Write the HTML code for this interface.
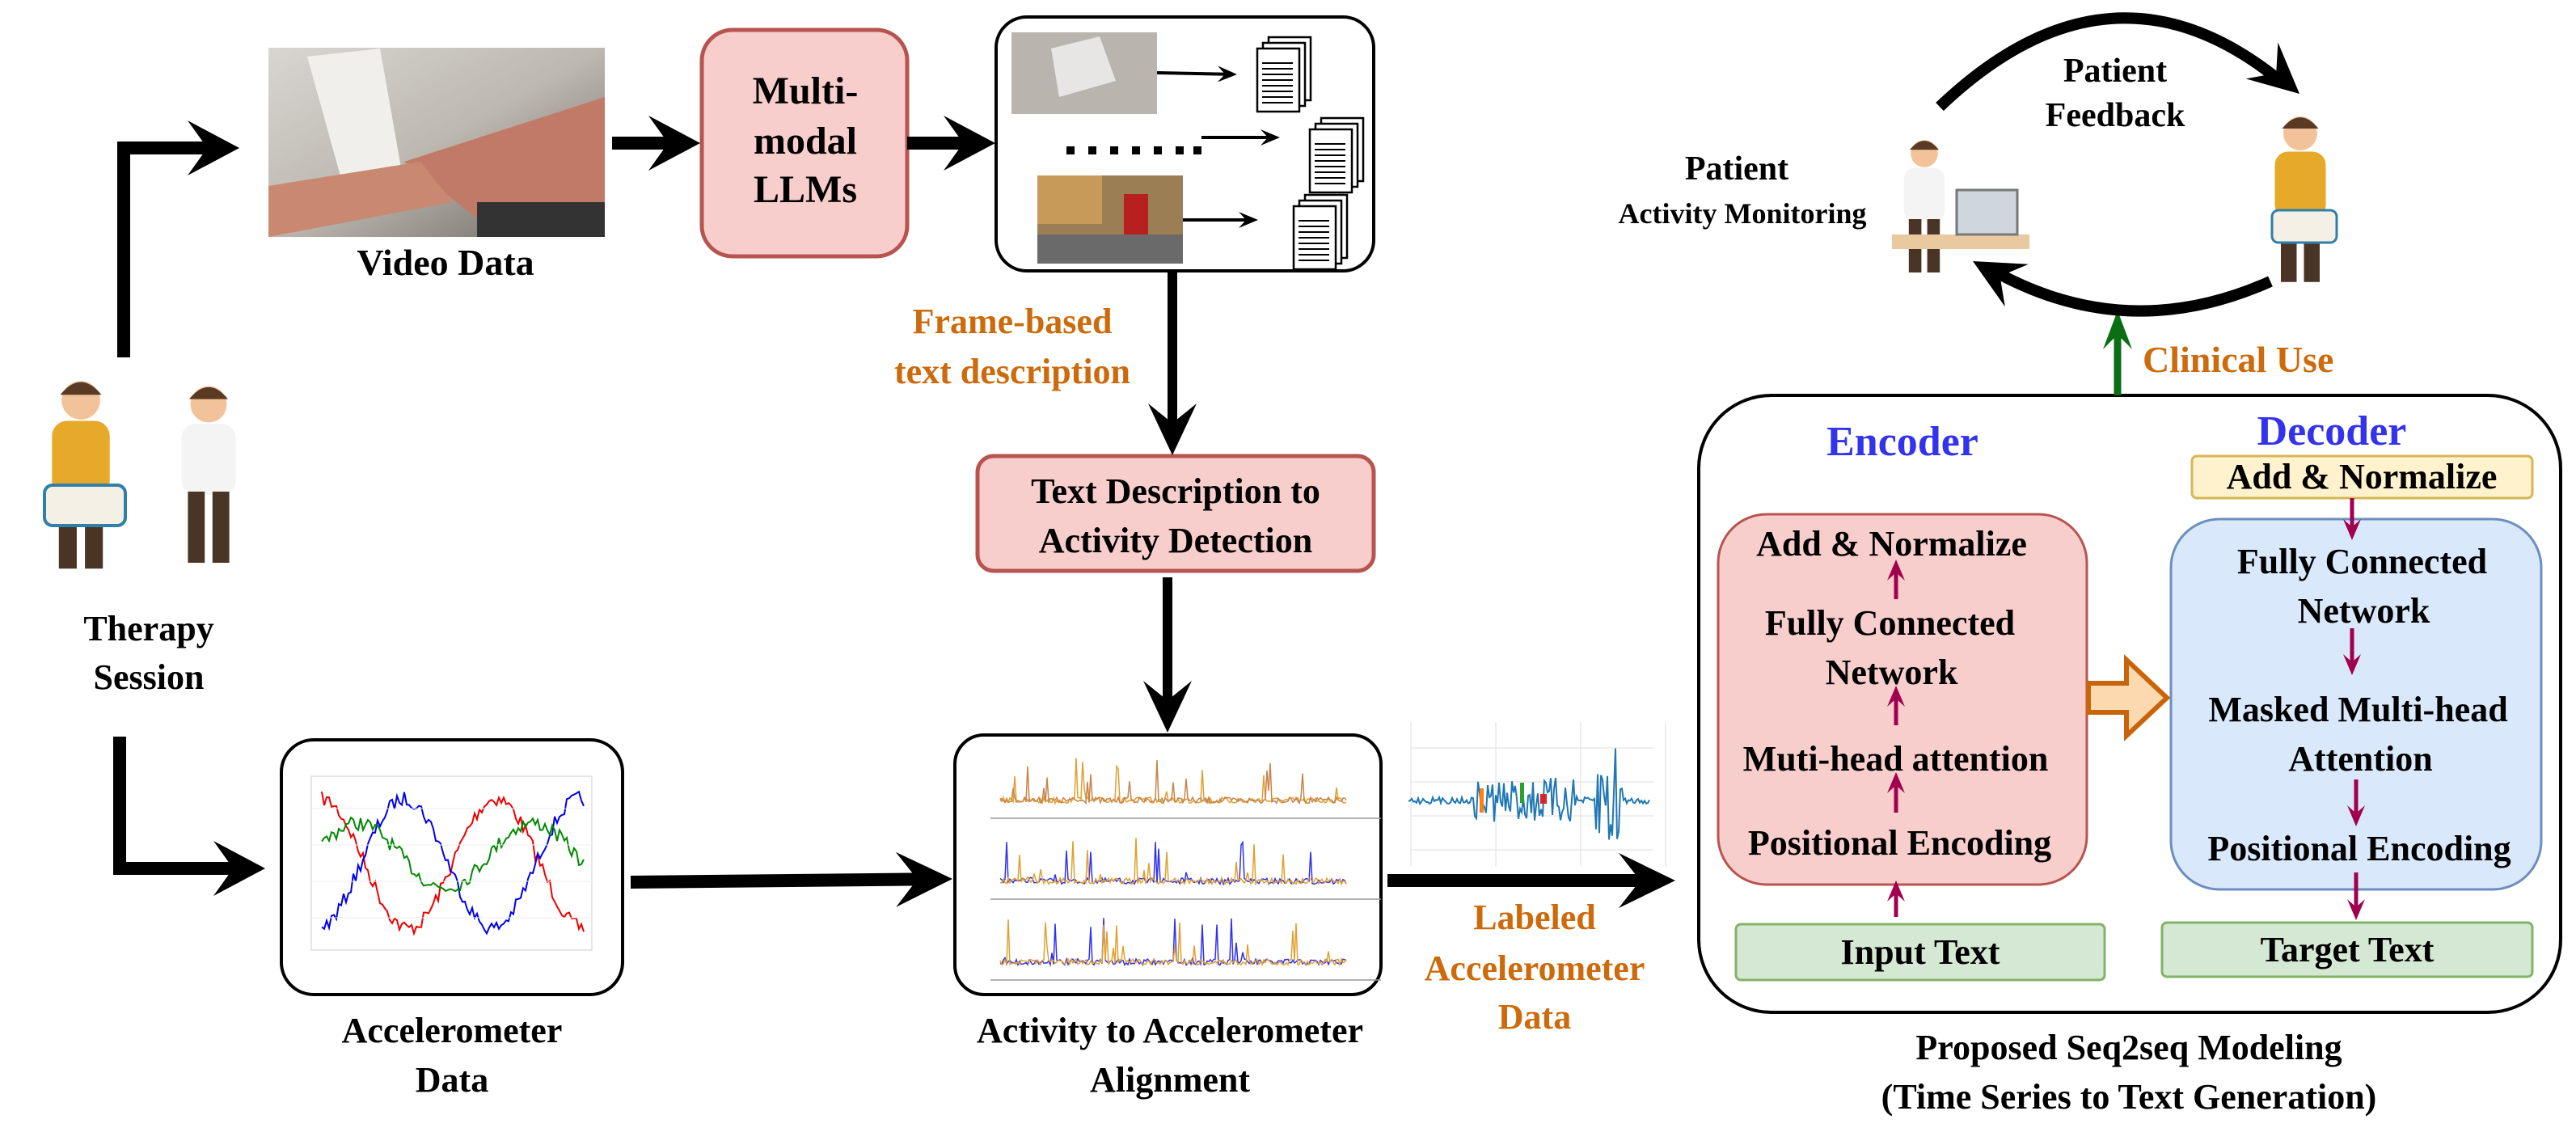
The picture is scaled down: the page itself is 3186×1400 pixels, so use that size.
<!DOCTYPE html>
<html><head><meta charset="utf-8"><style>
html,body{margin:0;padding:0;background:#fff}
svg{display:block}
text{font-family:"Liberation Serif",serif;font-weight:bold}
</style></head><body>
<svg id="s" width="3186" height="1400" viewBox="0 0 3186 1400" xmlns="http://www.w3.org/2000/svg">
<defs>
<linearGradient id="vg" x1="0" y1="0" x2="1" y2="1"><stop offset="0" stop-color="#d8d6d2"/><stop offset="0.5" stop-color="#bdb8b0"/><stop offset="1" stop-color="#6a6460"/></linearGradient>
</defs>
<!-- Video -->
<rect x="332" y="59" width="416" height="234" fill="url(#vg)"/>
<polygon points="380,70 470,60 500,230 430,250" fill="#f0efec"/>
<polygon points="500,200 748,120 748,293 620,293" fill="#c27a68"/>
<polygon points="332,230 520,200 560,250 332,293" fill="#c98870"/>
<rect x="590" y="250" width="158" height="43" fill="#333"/>
<text x="551" y="340" font-size="46" text-anchor="middle">Video Data</text>
<!-- LLM -->
<rect x="868" y="37" width="254" height="280" rx="38" fill="#f8cecc" stroke="#b85450" stroke-width="5"/>
<text font-size="48" text-anchor="middle"><tspan x="996" y="128">Multi-</tspan><tspan x="996" y="190">modal</tspan><tspan x="996" y="250">LLMs</tspan></text>
<!-- Frames box -->
<rect x="1232" y="21" width="467" height="314" rx="38" fill="#fff" stroke="#000" stroke-width="4"/>
<rect x="1251" y="40" width="180" height="101" fill="#b9b4ae"/>
<polygon points="1300,60 1360,45 1380,100 1310,120" fill="#e8e6e4"/>
<rect x="1283" y="217" width="180" height="109" fill="#9c7e55"/>
<rect x="1283" y="217" width="80" height="60" fill="#c89a5a"/>
<rect x="1390" y="240" width="30" height="80" fill="#b82020"/>
<rect x="1283" y="290" width="180" height="36" fill="#6a6a6a"/>
<g fill="#000"><rect x="1319" y="181" width="10" height="10"/><rect x="1346" y="181" width="10" height="10"/><rect x="1373" y="181" width="10" height="10"/><rect x="1400" y="181" width="10" height="10"/><rect x="1427" y="181" width="10" height="10"/><rect x="1454" y="181" width="10" height="10"/><rect x="1476" y="181" width="10" height="10"/></g>
<g id="docs" fill="#fff" stroke="#000" stroke-width="2.5"></g>
<text x="1252" y="412" font-size="44" fill="#cc6a0c" text-anchor="middle">Frame-based</text>
<text x="1252" y="474" font-size="44" fill="#cc6a0c" text-anchor="middle">text description</text>
<!-- TD box -->
<rect x="1209" y="564" width="490" height="142" rx="20" fill="#f8cecc" stroke="#b85450" stroke-width="5"/>
<text font-size="44" text-anchor="middle"><tspan x="1454" y="622">Text Description to</tspan><tspan x="1454" y="683">Activity Detection</tspan></text>
<!-- People -->
<g id="people"></g>
<text font-size="44" text-anchor="middle"><tspan x="184" y="792">Therapy</tspan><tspan x="184" y="852">Session</tspan></text>
<!-- Accelerometer -->
<rect x="348" y="915" width="422" height="315" rx="40" fill="#fff" stroke="#000" stroke-width="4"/>
<rect x="385" y="960" width="347" height="215" fill="#fff" stroke="#ddd" stroke-width="1.5"/>
<g id="acc"></g>
<text font-size="44" text-anchor="middle"><tspan x="559" y="1289">Accelerometer</tspan><tspan x="559" y="1350">Data</tspan></text>
<!-- Alignment -->
<rect x="1181" y="909" width="527" height="321" rx="36" fill="#fff" stroke="#000" stroke-width="4"/>
<g id="align"></g>
<text font-size="44" text-anchor="middle"><tspan x="1447" y="1289">Activity to Accelerometer</tspan><tspan x="1447" y="1350">Alignment</tspan></text>
<!-- Labeled -->
<g id="lab"></g>
<text font-size="44" fill="#cc6a0c" text-anchor="middle"><tspan x="1898" y="1149">Labeled</tspan><tspan x="1898" y="1212">Accelerometer</tspan><tspan x="1898" y="1272">Data</tspan></text>
<!-- Seq2seq -->
<rect x="2101" y="489" width="1066" height="763" rx="90" fill="#fff" stroke="#000" stroke-width="4"/>
<text x="2353" y="563" font-size="52" fill="#3333ee" text-anchor="middle">Encoder</text>
<text x="2884" y="550" font-size="52" fill="#3333ee" text-anchor="middle">Decoder</text>
<rect x="2711" y="564" width="421" height="52" rx="6" fill="#fff2cc" stroke="#d6b656" stroke-width="3"/>
<text x="2921" y="604" font-size="44" text-anchor="middle">Add &amp; Normalize</text>
<rect x="2125" y="636" width="456" height="458" rx="60" fill="#f8cecc" stroke="#b85450" stroke-width="3"/>
<rect x="2685" y="642" width="458" height="458" rx="60" fill="#dae8fc" stroke="#6c8ebf" stroke-width="3"/>
<text font-size="44" text-anchor="middle">
<tspan x="2345" y="687">Add &amp; Normalize</tspan>
<tspan x="2343" y="785">Fully Connected</tspan>
<tspan x="2345" y="846">Network</tspan>
<tspan x="2350" y="953">Muti-head attention</tspan>
<tspan x="2355" y="1057">Positional Encoding</tspan>
<tspan x="2927" y="709">Fully Connected</tspan>
<tspan x="2929" y="770">Network</tspan>
<tspan x="2922" y="892">Masked Multi-head</tspan>
<tspan x="2925" y="953">Attention</tspan>
<tspan x="2918" y="1064">Positional Encoding</tspan>
</text>
<rect x="2147" y="1143" width="456" height="69" rx="6" fill="#d5e8d4" stroke="#82b366" stroke-width="3"/>
<text x="2375" y="1192" font-size="44" text-anchor="middle">Input Text</text>
<rect x="2674" y="1141" width="458" height="67" rx="6" fill="#d5e8d4" stroke="#82b366" stroke-width="3"/>
<text x="2903" y="1189" font-size="44" text-anchor="middle">Target Text</text>
<polygon points="2583,845 2630,845 2630,816 2680,863 2630,910 2630,881 2583,881" fill="#fdd9b0" stroke="#c8650c" stroke-width="6" stroke-linejoin="miter"/>
<text font-size="44" text-anchor="middle"><tspan x="2633" y="1310">Proposed Seq2seq Modeling</tspan><tspan x="2633" y="1371">(Time Series to Text Generation)</tspan></text>
<!-- top cycle -->
<text x="2650" y="460" font-size="46" fill="#cc6a0c">Clinical Use</text>
<text font-size="42" text-anchor="middle"><tspan x="2616" y="101">Patient</tspan><tspan x="2616" y="156">Feedback</tspan></text>
<text x="2148" y="222" font-size="42" text-anchor="middle">Patient</text>
<text x="2155" y="276" font-size="36" text-anchor="middle">Activity Monitoring</text>
<g id="arrows"></g>
</svg>
<script>
var NS="http://www.w3.org/2000/svg";
function el(p,t,a){var e=document.createElementNS(NS,t);for(var k in a)e.setAttribute(k,a[k]);document.getElementById(p).appendChild(e);return e;}
function head(g,tx,ty,ang,L,W,c){var ca=Math.cos(ang),sa=Math.sin(ang);function P(u,v){return (tx+u*ca-v*sa).toFixed(1)+","+(ty+u*sa+v*ca).toFixed(1);}
el(g,"polygon",{points:[P(0,0),P(-L,-W),P(-L*0.62,0),P(-L,W)].join(" "),fill:c});}
function arr(g,pts,sw,L,W,c){var n=pts.length,a=pts[n-2],b=pts[n-1];var ang=Math.atan2(b[1]-a[1],b[0]-a[0]);
var q=pts.slice(0,n-1);q.push([b[0]-Math.cos(ang)*L*0.55,b[1]-Math.sin(ang)*L*0.55]);
el(g,"polyline",{points:q.map(function(p){return p.join(",")}).join(" "),fill:"none",stroke:c,"stroke-width":sw,"stroke-linejoin":"miter"});head(g,b[0],b[1],ang,L,W,c);}
var K="#000";
arr("arrows",[[153,442],[153,183],[296,183]],16,64,34,K);
arr("arrows",[[148,911],[148,1074],[328,1074]],16,64,34,K);
arr("arrows",[[757,177],[866,177]],16,64,34,K);
arr("arrows",[[1122,177],[1231,177]],16,64,34,K);
arr("arrows",[[1450,335],[1450,563]],12,64,30,K);
arr("arrows",[[1444,714],[1444,906]],12,64,30,K);
arr("arrows",[[780,1091],[1178,1087]],16,70,34,K);
arr("arrows",[[1716,1089],[2072,1089]],16,70,34,K);
arr("arrows",[[2619,489],[2619,384]],9,48,18,"#0a6e14");
var M="#a0004e";
[[2345,741,692],[2345,897,848],[2345,1005,955],[2345,1134,1089]].forEach(function(a){arr("arrows",[[a[0],a[1]],[a[0],a[2]]],5,26,11,M);});
[[2909,616,668],[2909,777,835],[2914,964,1022],[2914,1079,1138]].forEach(function(a){arr("arrows",[[a[0],a[1]],[a[0],a[2]]],5,26,11,M);});
el("arrows","path",{d:"M2399 132 Q2611 -70 2820 100",fill:"none",stroke:K,"stroke-width":14});
head("arrows",2844,116,Math.atan2(186,233)+0.05,62,30,K);
el("arrows","path",{d:"M2808 348 Q2630 428 2462 333",fill:"none",stroke:K,"stroke-width":14});
head("arrows",2440,323,Math.atan2(-105,-190),62,30,K);
arr("arrows",[[1431,90],[1530,92]],4,24,10,K);
arr("arrows",[[1486,170],[1583,170]],4,24,10,K);
arr("arrows",[[1463,272],[1556,272]],4,24,10,K);
function doc(x,y){for(var i=2;i>=0;i--){el("docs","rect",{x:x+i*7,y:y-i*7,width:52,height:78});}
for(var j=0;j<8;j++)el("docs","line",{x1:x+6,y1:y+18+j*7,x2:x+44,y2:y+18+j*7,"stroke-width":2});}
doc(1555,60);doc(1620,160);doc(1600,255);
var sd=7;function R(){sd=(sd*16807)%2147483647;return sd/2147483647;}
function wave(col,ph,amp,off){var p=[];for(var x=0;x<=325;x+=3){var y=1068-off-amp*Math.sin(x/325*2*Math.PI*1.5+ph)+(R()-0.5)*18;p.push((398+x)+","+y.toFixed(1));}el("acc","polyline",{points:p.join(" "),fill:"none",stroke:col,"stroke-width":2});}
wave("#e00",1.6,80,0);wave("#00e",-1.4,80,0);wave("#080",0.3,40,10);
for(var i=0;i<4;i++)el("acc","line",{x1:385,y1:1000+i*45,x2:732,y2:1000+i*45,stroke:"#eee"});
function noisy(g,x0,w,base,col,sc,sw){var p=[];for(var x=0;x<w;x+=2){var r=R();var v=(r-0.5)*8;if(r>0.93)v=-R()*sc;p.push((x0+x)+","+(base+v).toFixed(1));}el(g,"polyline",{points:p.join(" "),fill:"none",stroke:col,"stroke-width":sw});}
[[990],[1090],[1190]].forEach(function(b,i){el("align","line",{x1:1225,y1:b[0]+22,x2:1708,y2:b[0]+22,stroke:"#999","stroke-width":1.5});
if(i>0)noisy("align",1237,430,b[0],"#3030ee",55,1.5);noisy("align",1237,430,b[0],"#e0a030",55,1.5);if(i==0)noisy("align",1237,430,b[0],"#c8834a",50,1.5);});
for(var i=0;i<4;i++){el("lab","line",{x1:1745,y1:925+i*42,x2:2045,y2:925+i*42,stroke:"#ddd"});el("lab","line",{x1:1745+i*105,y1:893,x2:1745+i*105,y2:1072,stroke:"#ddd"});}
(function(){var p=[];for(var x=0;x<300;x+=2){var big=(x>80&&x<210)||(x>230&&x<265);var a=big?(x>230?70:28):4;p.push((1742+x)+","+(990+(R()-0.5)*2*a).toFixed(1));}el("lab","polyline",{points:p.join(" "),fill:"none",stroke:"#1f77b4","stroke-width":2});
el("lab","rect",{x:1830,y:975,width:5,height:30,fill:"#ff7f0e"});el("lab","rect",{x:1880,y:968,width:5,height:25,fill:"#2ca02c"});el("lab","rect",{x:1905,y:982,width:8,height:12,fill:"#d62728"});})();
function person(g,x,y,shirt,s){
el(g,"circle",{cx:x,cy:y,r:28*s,fill:"#f2c39a"});
el(g,"path",{d:"M"+(x-30*s)+" "+(y-8*s)+" Q"+x+" "+(y-45*s)+" "+(x+30*s)+" "+(y-8*s)+" Z",fill:"#5a3a22"});
el(g,"rect",{x:x-42*s,y:y+30*s,width:84*s,height:110*s,rx:22*s,fill:shirt});
el(g,"rect",{x:x-32*s,y:y+135*s,width:26*s,height:110*s,fill:"#4a3426"});
el(g,"rect",{x:x+6*s,y:y+135*s,width:26*s,height:110*s,fill:"#4a3426"});}
person("people",100,495,"#e6a92a",0.85);
el("people","rect",{x:55,y:600,width:100,height:50,rx:10,fill:"#f5f0e6",stroke:"#2f7fa8","stroke-width":4});
person("people",258,500,"#f4f4f4",0.8);
person("people",2380,190,"#f4f4f4",0.6);
el("people","rect",{x:2340,y:290,width:170,height:18,fill:"#e8c9a0"});
el("people","rect",{x:2420,y:235,width:75,height:55,fill:"#cfd6de",stroke:"#777","stroke-width":3});
person("people",2845,165,"#e6a92a",0.75);
el("people","rect",{x:2810,y:260,width:80,height:40,rx:8,fill:"#f5f0e6",stroke:"#2f7fa8","stroke-width":3});
</script>
</body></html>
